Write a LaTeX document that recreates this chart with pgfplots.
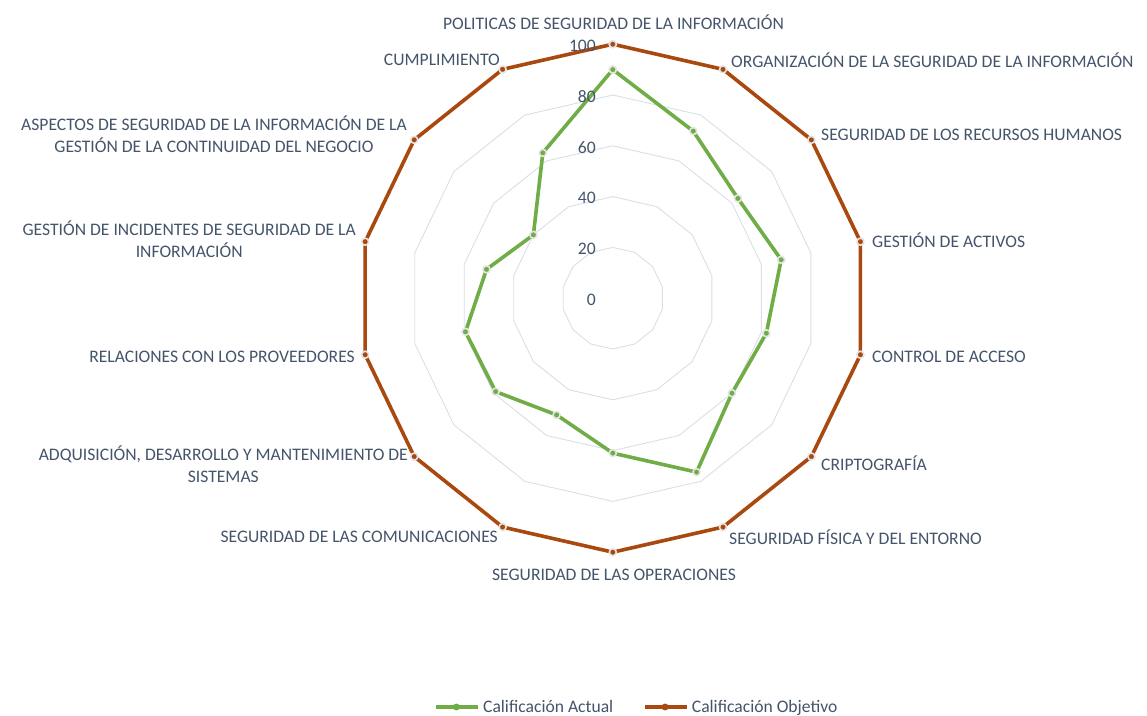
\documentclass[border=0pt]{standalone}
\usepackage{fontspec}
\setmainfont{Carlito}
\usepackage{pgfplots}
\pgfplotsset{compat=1.18}
\usepackage{pgfplotstable}
\definecolor{actual}{HTML}{70AD47}
\definecolor{objetivo}{HTML}{A9490F}
\definecolor{txt}{HTML}{44546A}
\definecolor{gridc}{HTML}{D9DEE8}
\definecolor{ring}{HTML}{E4E4E4}
\tikzset{lab/.style={text=txt, inner sep=0pt, font=\fontsize{17.6}{22}\selectfont}}

\pgfplotstableread{
i actual objetivo
0 90 100
1 73 100
2 63 100
3 68 100
4 62 100
5 60 100
6 76 100
7 61 100
8 51 100
9 59 100
10 59.5 100
11 51 100
12 40 100
13 63.5 100
14 90 100
}\datos

\begin{document}
\begin{tikzpicture}
\begin{axis}[
  x=1pt, y=1pt,
  xmin=0, xmax=1147, ymin=-715, ymax=0,
  hide axis, clip=false,
  legend style={at={(axis cs:637,-707)}, anchor=center, draw=none, fill=none,
    legend columns=2, text=txt, font=\fontsize{17.6}{20}\selectfont,
    inner sep=0pt,
    /tikz/every even column/.append style={column sep=28pt},
    /tikz/every odd column/.append style={column sep=1pt}},
  legend image code/.code={
    \draw[#1, mark repeat=2, mark phase=2, mark size=2.8pt, mark options={line width=1.2pt}]
      plot coordinates {(0pt,0pt) (20pt,0pt) (42pt,0pt)};
  },
]
% polygonal grid
\foreach \g in {20,40,60,80}{
  \addplot[gridc, line width=0.9pt, forget plot] table[
    x expr={612.8+2.54*\g*sin(\thisrow{i}*360/14)},
    y expr={-298.2+2.54*\g*cos(\thisrow{i}*360/14)}]{\datos};
}
\addplot[actual, line width=3.6pt, mark=*, mark size=3.5pt,
  mark options={fill=actual, draw=ring, line width=1.6pt}] table[
    x expr={612.8+2.54*\thisrow{actual}*sin(\thisrow{i}*360/14)},
    y expr={-298.2+2.54*\thisrow{actual}*cos(\thisrow{i}*360/14)}]{\datos};
\addlegendentry{Calificación Actual}
\addplot[objetivo, line width=3.6pt, mark=*, mark size=3.5pt,
  mark options={fill=objetivo, draw=ring, line width=1.6pt}] table[
    x expr={612.8+2.54*\thisrow{objetivo}*sin(\thisrow{i}*360/14)},
    y expr={-298.2+2.54*\thisrow{objetivo}*cos(\thisrow{i}*360/14)}]{\datos};
\addlegendentry{Calificación Objetivo}

% radial labels
\node[lab, anchor=east] at (axis cs:596,-299.7) {0};
\node[lab, anchor=east] at (axis cs:596,-248.9) {20};
\node[lab, anchor=east] at (axis cs:596,-198.1) {40};
\node[lab, anchor=east] at (axis cs:596,-147.3) {60};
\node[lab, anchor=east] at (axis cs:596,-96.5) {80};
\node[lab, anchor=east] at (axis cs:596,-45.7) {100};

% category labels
\node[lab, anchor=center] at (axis cs:613.5,-22) {POLITICAS DE SEGURIDAD DE LA INFORMACIÓN};
\node[lab, anchor=west] at (axis cs:731,-60) {ORGANIZACIÓN DE LA SEGURIDAD DE LA INFORMACIÓN};
\node[lab, anchor=west] at (axis cs:821,-135) {SEGURIDAD DE LOS RECURSOS HUMANOS};
\node[lab, anchor=west] at (axis cs:872,-240) {GESTIÓN DE ACTIVOS};
\node[lab, anchor=west] at (axis cs:872,-357) {CONTROL DE ACCESO};
\node[lab, anchor=west] at (axis cs:821,-463) {CRIPTOGRAFÍA};
\node[lab, anchor=west] at (axis cs:729,-537) {SEGURIDAD FÍSICA Y DEL ENTORNO};
\node[lab, anchor=center] at (axis cs:614,-575) {SEGURIDAD DE LAS OPERACIONES};
\node[lab, anchor=east] at (axis cs:498,-537) {SEGURIDAD DE LAS COMUNICACIONES};
\node[lab, anchor=east, align=center] at (axis cs:408,-464) {ADQUISICIÓN, DESARROLLO Y MANTENIMIENTO DE\\SISTEMAS};
\node[lab, anchor=east] at (axis cs:355,-357) {RELACIONES CON LOS PROVEEDORES};
\node[lab, anchor=east, align=center] at (axis cs:356,-239.5) {GESTIÓN DE INCIDENTES DE SEGURIDAD DE LA\\INFORMACIÓN};
\node[lab, anchor=east, align=center] at (axis cs:407,-134) {ASPECTOS DE SEGURIDAD DE LA INFORMACIÓN DE LA\\GESTIÓN DE LA CONTINUIDAD DEL NEGOCIO};
\node[lab, anchor=east] at (axis cs:500,-60) {CUMPLIMIENTO};

\path (axis cs:0,-715) rectangle (axis cs:1147,0);
\end{axis}
\end{tikzpicture}
\end{document}
